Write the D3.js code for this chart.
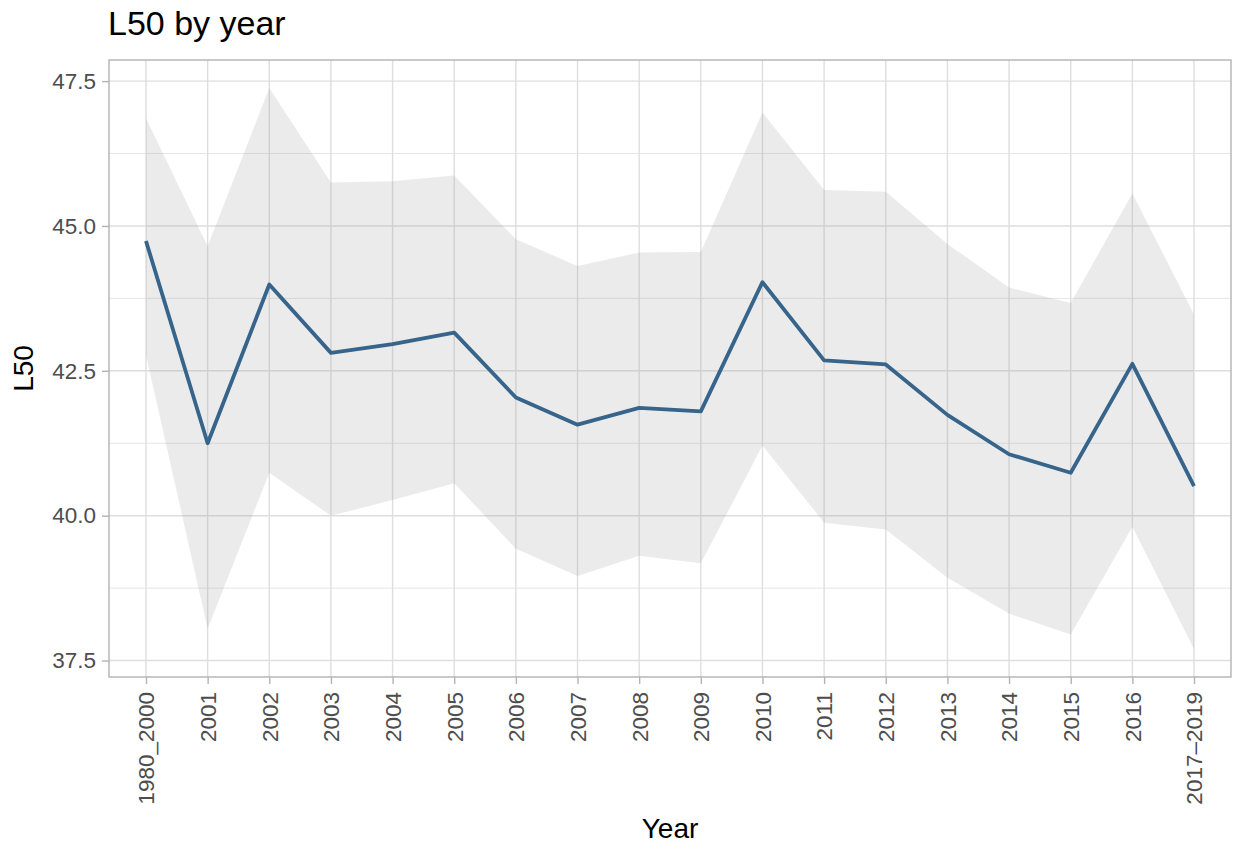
<!DOCTYPE html>
<html>
<head>
<meta charset="utf-8">
<script src="https://cdn.jsdelivr.net/npm/d3@7"></script>
<style>
  body { margin: 0; background: #fff; }
  svg { display: block; font-family: "Liberation Sans", Arial, Helvetica, sans-serif; }
</style>
</head>
<body>
<svg id="chart" width="1236" height="844"></svg>
<script>
// Year groups along the x axis
const years = ["1980_2000", "2001", "2002", "2003", "2004", "2005", "2006", "2007", "2008",
  "2009", "2010", "2011", "2012", "2013", "2014", "2015", "2016", "2017\u20132019"];

// Estimated L50 per year group
const l50 = [44.74, 41.25, 43.99, 42.81, 42.96, 43.16, 42.04, 41.57, 41.86,
  41.80, 44.03, 42.68, 42.61, 41.74, 41.06, 40.74, 42.62, 40.51];

// Confidence band bounds
const upper = [46.86, 44.65, 47.38, 45.75, 45.77, 45.87, 44.77, 44.31, 44.54,
  44.55, 46.96, 45.62, 45.59, 44.69, 43.94, 43.67, 45.56, 43.47];
const lower = [42.77, 38.05, 40.74, 40.00, 40.27, 40.56, 39.43, 38.96, 39.31,
  39.18, 41.21, 39.88, 39.76, 38.93, 38.31, 37.95, 39.81, 37.70];

const yTicks = [37.5, 40.0, 42.5, 45.0, 47.5];
const yMinorTicks = [38.75, 41.25, 43.75, 46.25];

const rows = years.map((y, i) => ({ year: y, l50: l50[i], lo: lower[i], hi: upper[i] }));

const svg = d3.select("#chart");
const panel = { left: 109, right: 1231, top: 60, bottom: 677 };

// Discrete x scale with 0.6 unit padding at each end
const x = d3.scalePoint()
  .domain(years)
  .range([panel.left, panel.right])
  .padding(0.6);

// Continuous y scale with 5% expansion around the band extent
const yMin = d3.min(lower), yMax = d3.max(upper);
const pad = (yMax - yMin) * 0.05;
const y = d3.scaleLinear()
  .domain([yMin - pad, yMax + pad])
  .range([panel.bottom, panel.top]);

const g = svg.append("g");

// Minor grid
g.selectAll("line.ymin").data(yMinorTicks).join("line")
  .attr("x1", panel.left).attr("x2", panel.right)
  .attr("y1", d => y(d)).attr("y2", d => y(d))
  .attr("stroke", "#DEDEDE").attr("stroke-width", 0.8);

// Major grid
g.selectAll("line.ymaj").data(yTicks).join("line")
  .attr("x1", panel.left).attr("x2", panel.right)
  .attr("y1", d => y(d)).attr("y2", d => y(d))
  .attr("stroke", "#DEDEDE").attr("stroke-width", 1.4);
g.selectAll("line.xmaj").data(years).join("line")
  .attr("x1", d => x(d)).attr("x2", d => x(d))
  .attr("y1", panel.top).attr("y2", panel.bottom)
  .attr("stroke", "#DEDEDE").attr("stroke-width", 1.4);

// Confidence band
const area = d3.area()
  .x(d => x(d.year))
  .y0(d => y(d.lo))
  .y1(d => y(d.hi));
g.append("path")
  .datum(rows)
  .attr("d", area)
  .attr("fill", "#999999")
  .attr("fill-opacity", 0.2);

// L50 line
const line = d3.line()
  .x(d => x(d.year))
  .y(d => y(d.l50));
g.append("path")
  .datum(rows)
  .attr("d", line)
  .attr("fill", "none")
  .attr("stroke", "#36648B")
  .attr("stroke-width", 3.8)
  .attr("stroke-linejoin", "round");

// Panel border
g.append("rect")
  .attr("x", panel.left).attr("y", panel.top)
  .attr("width", panel.right - panel.left)
  .attr("height", panel.bottom - panel.top)
  .attr("fill", "none")
  .attr("stroke", "#B3B3B3")
  .attr("stroke-width", 1.4);

// Y axis
const yAxis = d3.axisLeft(y)
  .tickValues(yTicks)
  .tickFormat(d3.format(".1f"))
  .tickSize(7)
  .tickPadding(6);
const ya = svg.append("g")
  .attr("transform", `translate(${panel.left},0)`)
  .call(yAxis);
ya.select(".domain").remove();
ya.selectAll(".tick line").attr("stroke", "#B3B3B3").attr("stroke-width", 1.4);
ya.selectAll(".tick text")
  .attr("fill", "#4D4D4D")
  .style("font-size", "22.5px")
  .style("font-family", "'Liberation Sans', Arial, sans-serif");

// X axis
const xAxis = d3.axisBottom(x).tickSize(7).tickPadding(7);
const xa = svg.append("g")
  .attr("transform", `translate(0,${panel.bottom})`)
  .call(xAxis);
xa.select(".domain").remove();
xa.selectAll(".tick line").attr("stroke", "#B3B3B3").attr("stroke-width", 1.4);
xa.selectAll(".tick text")
  .attr("fill", "#4D4D4D")
  .style("font-size", "22.5px")
  .style("font-family", "'Liberation Sans', Arial, sans-serif")
  .attr("transform", "rotate(-90)")
  .attr("text-anchor", "end")
  .attr("x", -15)
  .attr("y", 0)
  .attr("dy", "0.35em");

// Title and axis titles
svg.append("text")
  .attr("x", 108).attr("y", 35)
  .attr("font-size", "34px")
  .attr("fill", "#000")
  .text("L50 by year");

svg.append("text")
  .attr("x", (panel.left + panel.right) / 2)
  .attr("y", 838)
  .attr("text-anchor", "middle")
  .attr("font-size", "28px")
  .attr("fill", "#000")
  .text("Year");

svg.append("text")
  .attr("transform", `translate(33,${(panel.top + panel.bottom) / 2}) rotate(-90)`)
  .attr("text-anchor", "middle")
  .attr("font-size", "28px")
  .attr("fill", "#000")
  .text("L50");
</script>
</body>
</html>
